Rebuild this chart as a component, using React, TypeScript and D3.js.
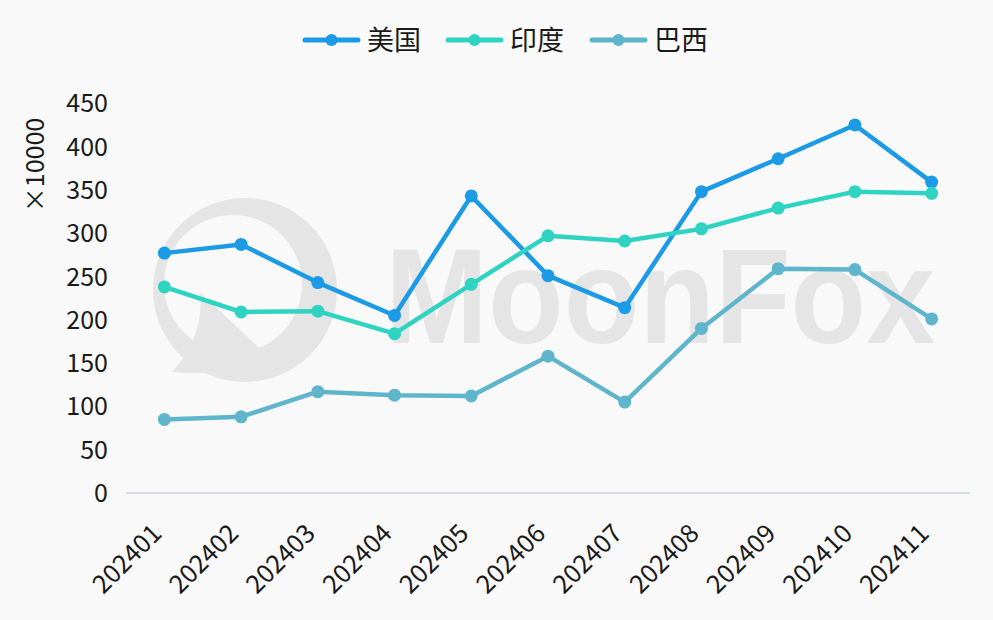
import React from "react";
import * as d3 from "d3";

const months = ["202401","202402","202403","202404","202405","202406","202407","202408","202409","202410","202411"];
const usValues = [277, 287, 243, 205, 343, 251, 214, 348, 386, 425, 359];
const indiaValues = [238, 209, 210, 184, 241, 297, 291, 305, 329, 348, 346];
const brazilValues = [85, 88, 117, 113, 112, 158, 105, 190, 259, 258, 201];
const seriesNames = ["美国", "印度", "巴西"];
const seriesColors = ["#1b9be6", "#2fd3c2", "#5fb5cc"];
const yTicks = [0, 50, 100, 150, 200, 250, 300, 350, 400, 450];
const unitLabel = "×10000";

const W = 993, H = 620;
const FONT = "'Noto Sans CJK SC', 'Noto Sans', sans-serif";

export default function App() {
  const x = d3.scalePoint<string>().domain(months).range([126, 970]).padding(0.5);
  const y = d3.scaleLinear().domain([0, 450]).range([493, 103.3]);
  const allSeries = [usValues, indiaValues, brazilValues];
  const line = d3.line<number>().x((_, i) => x(months[i]) as number).y((d) => y(d));

  const legendStarts = [305, 448, 592];

  return (
    <svg width={W} height={H} style={{ position: "absolute", left: 0, top: 0, background: "#f9f9f9" }} fontFamily={FONT}>
      <rect x={0} y={0} width={W} height={H} fill="#f9f9f9" />
      {/* watermark */}
      <g fill="#e5e5e5">
        <path
          fillRule="evenodd"
          d={`M ${245 - 92} 290 a 92 92 0 1 0 184 0 a 92 92 0 1 0 -184 0 Z M ${233 - 69} 284 a 69 69 0 1 0 138 0 a 69 69 0 1 0 -138 0 Z`}
        />
        <path d="M 200 292 Q 240 330 268 356 Q 230 378 172 372 Q 205 335 200 292 Z" />
        <text x={385} y={343} fontSize={136} fontWeight={700} fontFamily="'Liberation Sans', Arial, sans-serif" textLength={550} lengthAdjust="spacingAndGlyphs">MoonFox</text>
      </g>
      {/* axis line */}
      <line x1={126} x2={970} y1={y(0)} y2={y(0)} stroke="#d6dde6" strokeWidth={2} />
      {/* y ticks */}
      {yTicks.map((t) => (
        <text key={t} x={108} y={y(t)} dy="0.36em" textAnchor="end" fontSize={25} fill="#1a1a1a">{t}</text>
      ))}
      <text transform={`translate(44, 165) rotate(-90)`} textAnchor="middle" fontSize={25} fill="#1a1a1a">{unitLabel}</text>
      {/* x labels */}
      {months.map((m) => (
        <text key={m} transform={`translate(${(x(m) as number) - 1}, 535) rotate(-45)`} textAnchor="end" fontSize={25.5} fill="#1a1a1a">{m}</text>
      ))}
      {/* series */}
      {allSeries.map((vals, si) => (
        <g key={si}>
          <path d={line(vals) || ""} fill="none" stroke={seriesColors[si]} strokeWidth={4.5} strokeLinejoin="round" />
          {vals.map((v, i) => (
            <circle key={i} cx={x(months[i]) as number} cy={y(v)} r={6.5} fill={seriesColors[si]} />
          ))}
        </g>
      ))}
      {/* legend */}
      {seriesNames.map((n, i) => (
        <g key={n} transform={`translate(${legendStarts[i]}, 40)`}>
          <line x1={0} x2={53} y1={0} y2={0} stroke={seriesColors[i]} strokeWidth={5} strokeLinecap="round" />
          <circle cx={26.5} cy={0} r={6} fill={seriesColors[i]} />
          <text x={62} y={0} dy="0.36em" fontSize={27} fill="#1a1a1a">{n}</text>
        </g>
      ))}
    </svg>
  );
}
